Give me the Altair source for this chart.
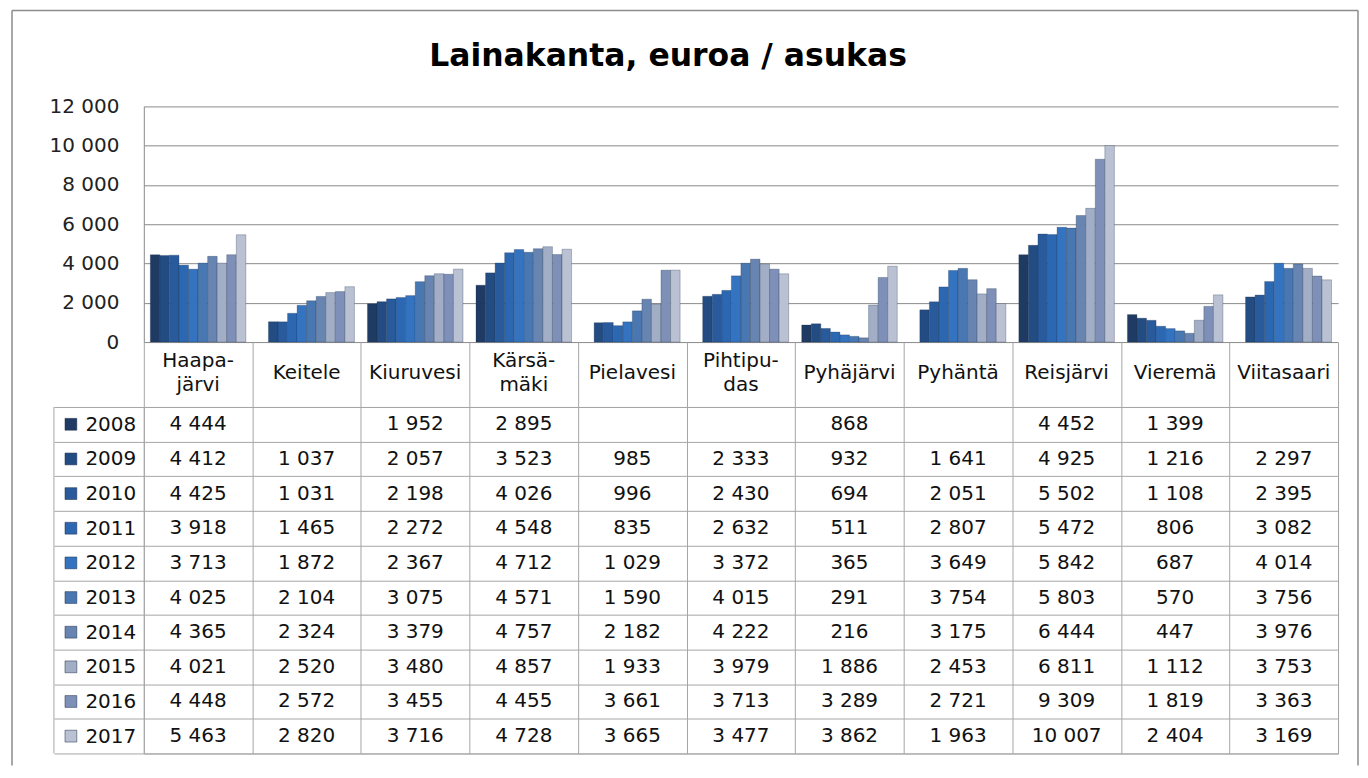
import altair as alt
import pandas as pd

title_text = "Lainakanta, euroa / asukas"
categories = ["Haapajärvi", "Keitele", "Kiuruvesi", "Kärsämäki", "Pielavesi", "Pihtipudas",
              "Pyhäjärvi", "Pyhäntä", "Reisjärvi", "Vieremä", "Viitasaari"]
header_labels = ["Haapa-|järvi", "Keitele", "Kiuruvesi", "Kärsä-|mäki", "Pielavesi", "Pihtipu-|das",
                 "Pyhäjärvi", "Pyhäntä", "Reisjärvi", "Vieremä", "Viitasaari"]
years = ["2008", "2009", "2010", "2011", "2012", "2013", "2014", "2015", "2016", "2017"]
year_colors = ["#1f3b63", "#234c82", "#285a9c", "#2c67b1", "#3473c0", "#4877b2",
               "#6884b0", "#a2aec6", "#7e90b8", "#b9c1d3"]

haapajarvi = [4444, 4412, 4425, 3918, 3713, 4025, 4365, 4021, 4448, 5463]
keitele = [None, 1037, 1031, 1465, 1872, 2104, 2324, 2520, 2572, 2820]
kiuruvesi = [1952, 2057, 2198, 2272, 2367, 3075, 3379, 3480, 3455, 3716]
karsamaki = [2895, 3523, 4026, 4548, 4712, 4571, 4757, 4857, 4455, 4728]
pielavesi = [None, 985, 996, 835, 1029, 1590, 2182, 1933, 3661, 3665]
pihtipudas = [None, 2333, 2430, 2632, 3372, 4015, 4222, 3979, 3713, 3477]
pyhajarvi = [868, 932, 694, 511, 365, 291, 216, 1886, 3289, 3862]
pyhanta = [None, 1641, 2051, 2807, 3649, 3754, 3175, 2453, 2721, 1963]
reisjarvi = [4452, 4925, 5502, 5472, 5842, 5803, 6444, 6811, 9309, 10007]
vierema = [1399, 1216, 1108, 806, 687, 570, 447, 1112, 1819, 2404]
viitasaari = [None, 2297, 2395, 3082, 4014, 3756, 3976, 3753, 3363, 3169]

series = [haapajarvi, keitele, kiuruvesi, karsamaki, pielavesi, pihtipudas,
          pyhajarvi, pyhanta, reisjarvi, vierema, viitasaari]

rows = []
for cat, hdr, vals in zip(categories, header_labels, series):
    for yr, v in zip(years, vals):
        rows.append({
            "kunta": cat, "header": hdr, "year": yr, "value": v,
            "text": "" if v is None else f"{v:,}".replace(",", " "),
        })
df = pd.DataFrame(rows)
df_bars = df[df["value"].notna()].copy()

hdr_rows = []
for hdr in header_labels:
    parts = hdr.split("|")
    hdr_rows.append({
        "header": hdr,
        "single": parts[0] if len(parts) == 1 else "",
        "line1": parts[0] if len(parts) == 2 else "",
        "line2": parts[1] if len(parts) == 2 else "",
    })
df_hdr = pd.DataFrame(hdr_rows)

FONT = "DejaVu Sans"
GRID = "#8a8a8a"
TBL = "#a6a6a6"
FS = 20

color_scale = alt.Scale(domain=years, range=year_colors)

bars = alt.Chart(df_bars).mark_bar(stroke="#1a2a44", strokeOpacity=0.35, strokeWidth=0.8).encode(
    x=alt.X("header:N", sort=header_labels, axis=None,
            scale=alt.Scale(paddingInner=0.12, paddingOuter=0.06)),
    xOffset=alt.XOffset("year:N", sort=years, scale=alt.Scale(paddingInner=0, paddingOuter=0)),
    y=alt.Y("value:Q", scale=alt.Scale(domain=[0, 12000]),
            axis=alt.Axis(values=[0, 2000, 4000, 6000, 8000, 10000, 12000], title=None,
                          ticks=False, labelPadding=25, labelFontSize=FS, labelColor="#222",
                          labelExpr="replace(format(datum.value, ','), ',', ' ')",
                          gridColor=GRID, domainColor=GRID, labelFont=FONT)),
    color=alt.Color("year:N", scale=color_scale, legend=None),
)

border = alt.Chart(pd.DataFrame({"k": [0]})).mark_rule(color="#8c8c8c", strokeWidth=1.5)
border_left = border.encode(x=alt.value(-132), y=alt.value(-96), y2=alt.value(660))
border_right = border.encode(x=alt.value(1216), y=alt.value(-96), y2=alt.value(660))
border_top = border.encode(x=alt.value(-132), x2=alt.value(1216), y=alt.value(-96))

title = alt.Chart(pd.DataFrame({"t": [title_text]})).mark_text(
    font=FONT, fontSize=31.5, fontWeight="bold", color="#000", baseline="middle", align="center"
).encode(text="t:N", x=alt.value(525), y=alt.value(-49))

top = alt.layer(bars, border_left, border_right, border_top, title).properties(
    width=1196, height=236, view=alt.ViewBackground(stroke="transparent")
)

x_table = alt.X("header:N", sort=header_labels, scale=alt.Scale(paddingInner=0, paddingOuter=0),
                axis=alt.Axis(orient="top", title=None, tickBand="extent", tickSize=65,
                              tickColor=TBL, grid=True, gridColor=TBL, domain=False,
                              labels=False))

cells = alt.Chart(df).mark_text(font=FONT, fontSize=FS, color="#111").encode(
    x=x_table,
    y=alt.Y("year:N", sort=years, scale=alt.Scale(paddingInner=0, paddingOuter=0),
            axis=alt.Axis(title=None, tickBand="extent", tickSize=90, tickColor=TBL,
                          grid=True, gridColor=TBL, domain=False, labelAlign="left",
                          labelBaseline="middle", labelPadding=-31, labelFontSize=FS,
                          labelColor="#111", labelFont=FONT)),
    text="text:N",
)

hdr_base = alt.Chart(df_hdr).mark_text(font=FONT, fontSize=FS, color="#111", baseline="middle")
hdr_single = hdr_base.encode(x=alt.X("header:N", sort=header_labels), y=alt.value(-34), text="single:N")
hdr_line1 = hdr_base.encode(x=alt.X("header:N", sort=header_labels), y=alt.value(-46), text="line1:N")
hdr_line2 = hdr_base.encode(x=alt.X("header:N", sort=header_labels), y=alt.value(-22), text="line2:N")

squares = alt.Chart(pd.DataFrame({"year": years})).mark_square(
    size=140, opacity=1, stroke="#1a2a44", strokeWidth=0.5
).encode(
    x=alt.value(-73),
    y=alt.Y("year:N", sort=years),
    color=alt.Color("year:N", scale=color_scale, legend=None),
)

left_edge = alt.Chart(pd.DataFrame({"k": [0]})).mark_rule(color=TBL).encode(
    x=alt.value(-90), y=alt.value(0), y2=alt.value(347)
)

table = alt.layer(cells, hdr_single, hdr_line1, hdr_line2, squares, left_edge).properties(
    width=1196, height=347, view=alt.ViewBackground(stroke=TBL)
)

chart = alt.vconcat(top, table, spacing=65, bounds="flush").properties(
    padding={"left": 2, "top": 0, "right": 0, "bottom": 0}
).configure(font=FONT)

chart.save("out.html", embed_options={"renderer": "svg", "actions": False})
